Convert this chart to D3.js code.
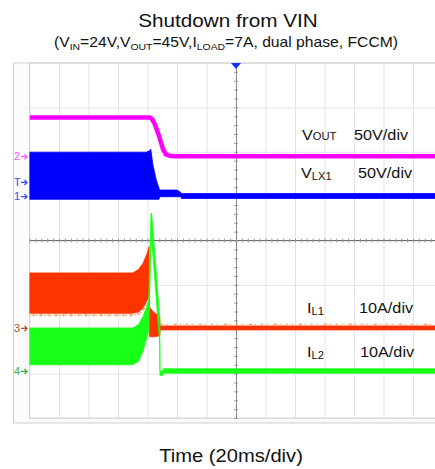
<!DOCTYPE html>
<html><head><meta charset="utf-8">
<script src="https://cdn.jsdelivr.net/npm/d3@7"></script>
<style>
html,body{margin:0;padding:0;background:#fff;}
svg{display:block;font-family:"Liberation Sans",Arial,sans-serif;}
</style></head><body>
<svg id="chart" width="435" height="469"></svg>
<script>
// Scope capture: 20 ms/div across, 8 divisions down
const timeDivs = 14;
const msPerDiv = 20;
const vertDivs = [-4, -3, -2, -1, 0, 1, 2, 3, 4];

// Channel setup: ground level (div), units per div, trace colour
const channelIds = ["1", "2", "3", "4"];
const channelOffsets = [1.0, 1.9, -1.97, -2.94];
const channelPerDiv = [50, 50, 10, 10];
const channelColors = ["#0000ff", "#ff00ff", "#ff3300", "#18ff18"];
const markerColors = ["#3a4cf0", "#ff55ff", "#b5502e", "#3fae3f"];
const triggerLevel = 16;   // V on channel 1
const triggerTime = 140;   // ms from left edge

// VOUT (ch2), volts
const voutT = [0, 81.5, 83, 85, 88, 90.5, 92.5, 95, 98, 280];
const voutV = [43.5, 43.5, 42, 36, 22, 8, 2, 0.5, 0, 0];

// VLX1 (ch1) switching envelope, volts
const lxT  = [0, 79, 81.5, 82.2, 83.7, 86, 87.8, 88.3, 100, 102.7, 103, 280];
const lxHi = [49.5, 49.5, 51, 53, 35, 18, 9, 6.9, 6.9, 4, 2.9, 2.9];
const lxLo = [-3.6, -3.6, -3.6, -3.6, -3.6, -3.6, -3.6, -0.7, -0.7, -0.7, -2.7, -2.7];

// IL1 (ch3) ripple envelope, amps
const il1T  = [0, 70, 74, 77, 79.5, 81.1, 81.3, 84, 88.3, 88.6, 280];
const il1Hi = [12.4, 12.4, 13.2, 14.6, 16.6, 18.3, 4.7, 3.6, 2.5, 0.45, 0.45];
const il1Lo = [3.3, 3.3, 3.6, 4.5, 6.0, 7.5, -2.0, -2.0, -1.8, -0.45, -0.45];

// IL2 (ch4) ripple envelope, amps
const il2T  = [0, 70, 74, 77, 79.5, 80.8, 82.4, 82.9, 88.3, 88.45, 90.4, 90.6, 280];
const il2Hi = [9.7, 9.7, 10.5, 12.3, 14.5, 16, 35.6, 35.3, 12, 0.0, 0.0, 0.5, 0.5];
const il2Lo = [1.4, 1.4, 2.2, 4.5, 7.5, 9, 28, 29.5, 6.2, -1.0, -1.0, -0.5, -0.5];

const svg = d3.select("#chart");
const plotLeft = 29.5, plotTop = 63, plotBottom = 418;
const divW = 29.5;
const x = d3.scaleLinear().domain([0, timeDivs * msPerDiv]).range([plotLeft, plotLeft + timeDivs * divW]);
const y = d3.scaleLinear().domain([-4, 4]).range([plotBottom, plotTop]);
const plotRight = x.range()[1];

// channel value -> screen division
const toDiv = (ch, v) => channelOffsets[ch] + v / channelPerDiv[ch];

// text stretched slightly wider than the stock face
function label(g, tx, ty, anchor, size, parts) {
  const t = g.append("g").attr("transform", `translate(${tx},${ty}) scale(1.12,1)`)
    .append("text").attr("text-anchor", anchor).attr("font-size", size).attr("fill", "#111");
  parts.forEach(p => {
    const s = t.append("tspan").text(p.t);
    if (p.sub) s.attr("font-size", p.sub).attr("dy", p.dy);
    else if (p.dy) s.attr("dy", p.dy);
  });
}

// screen frame
svg.append("rect").attr("x", 13.5).attr("y", plotTop).attr("width", 440).attr("height", 423 - plotTop)
  .attr("fill", "#fbfbfb").attr("stroke", "#cfcfcf");
svg.append("rect").attr("x", plotLeft).attr("y", plotTop).attr("width", plotRight - plotLeft).attr("height", plotBottom - plotTop)
  .attr("fill", "#fff");

// grid
const grid = svg.append("g").attr("class", "grid");
grid.append("g").attr("transform", `translate(0,${plotBottom})`)
  .call(d3.axisBottom(x).tickValues(d3.range(0, timeDivs + 1).map(i => i * msPerDiv))
    .tickSize(-(plotBottom - plotTop)).tickFormat(""))
  .call(g => g.select(".domain").remove())
  .call(g => g.selectAll("line").attr("stroke", "#e3e3e3"));
grid.append("g").attr("transform", `translate(${plotLeft},0)`)
  .call(d3.axisLeft(y).tickValues(vertDivs).tickSize(-(plotRight - plotLeft)).tickFormat(""))
  .call(g => g.select(".domain").remove())
  .call(g => g.selectAll("line").attr("stroke", "#e3e3e3"));
svg.append("rect").attr("x", plotLeft).attr("y", plotTop).attr("width", plotRight - plotLeft).attr("height", plotBottom - plotTop)
  .attr("fill", "none").attr("stroke", "#d6d6d6");

// centre graticule with fifth-division ticks
const cx = x(triggerTime), cy = y(0);
svg.append("g").attr("transform", `translate(0,${cy})`)
  .call(d3.axisBottom(x).tickValues(d3.range(0, 281, msPerDiv / 5)).tickSize(4).tickSizeOuter(0).tickFormat(""))
  .call(g => g.selectAll("line").attr("transform", "translate(0,-2)").attr("stroke", "#9a9a9a"))
  .call(g => g.select(".domain").attr("stroke", "#6a6a6a").attr("d", `M${plotLeft},0H${plotRight}`));
svg.append("g").attr("transform", `translate(${cx},0)`)
  .call(d3.axisLeft(y).tickValues(d3.range(-20, 21).map(i => i / 5)).tickSize(4).tickSizeOuter(0).tickFormat(""))
  .call(g => g.selectAll("line").attr("transform", "translate(2,0)").attr("stroke", "#9a9a9a"))
  .call(g => g.select(".domain").attr("stroke", "#8a8a8a"));

// traces
svg.append("clipPath").attr("id", "clip").append("rect")
  .attr("x", plotLeft).attr("y", plotTop).attr("width", plotRight - plotLeft).attr("height", plotBottom - plotTop);
const plot = svg.append("g").attr("clip-path", "url(#clip)");

function band(ch, T, hi, lo) {
  const pts = T.map((t, i) => ({t, hi: hi[i], lo: lo[i]}));
  plot.append("path").datum(pts)
    .attr("fill", channelColors[ch]).attr("stroke", channelColors[ch]).attr("stroke-width", 0.8)
    .attr("d", d3.area().x(d => x(d.t)).y0(d => y(toDiv(ch, d.lo))).y1(d => y(toDiv(ch, d.hi))));
}
band(0, lxT, lxHi, lxLo);
plot.append("path").datum(voutT.map((t, i) => ({t, v: voutV[i]})))
  .attr("fill", "none").attr("stroke", channelColors[1]).attr("stroke-width", 4.5)
  .attr("d", d3.line().x(d => x(d.t)).y(d => y(toDiv(1, d.v))));
band(2, il1T, il1Hi, il1Lo);
// switching spikes fringing the IL1 trace
plot.append("path").datum(il1T.slice(0, 5).map((t, i) => ({t, v: il1Lo[i] - 0.45})))
  .attr("fill", "none").attr("stroke", "#ff9a55").attr("stroke-width", 2)
  .attr("stroke-dasharray", "1 2 2 1 1 3 3 2")
  .attr("d", d3.line().x(d => x(d.t)).y(d => y(toDiv(2, d.v))));
plot.append("path").datum([{t: 89, v: 0.75}, {t: 280, v: 0.75}])
  .attr("fill", "none").attr("stroke", "#ff9a55").attr("stroke-width", 1.5)
  .attr("stroke-dasharray", "2 4 1 6 3 3 1 5")
  .attr("d", d3.line().x(d => x(d.t)).y(d => y(toDiv(2, d.v))));
band(3, il2T, il2Hi, il2Lo);

// trigger position marker
svg.append("path").attr("fill", "#1530ff")
  .attr("d", `M${cx - 5},${plotTop}L${cx + 5},${plotTop}L${cx},${plotTop + 6}Z`);

// ground / trigger markers at the left edge
function marker(txt, yPos, color) {
  const g = svg.append("g").attr("transform", `translate(14,${yPos})`);
  g.append("text").attr("x", 0).attr("y", 4).attr("font-size", 11).attr("fill", color).text(txt);
  g.append("path").attr("stroke", color).attr("stroke-width", 1.3).attr("fill", "none")
    .attr("d", "M7,0.5H13M10.5,-2L13,0.5L10.5,3");
}
channelIds.forEach((id, i) => marker(id, y(channelOffsets[i]), markerColors[i]));
marker("T", y(toDiv(0, triggerLevel)), markerColors[0]);

// titles
label(svg, 228, 27, "middle", 18.5, [{t: "Shutdown from VIN"}]);
label(svg, 226, 47, "middle", 14, [
  {t: "(V"}, {t: "IN", sub: 9.3, dy: 2.5}, {t: "=24V,V", dy: -2.5}, {t: "OUT", sub: 9.3, dy: 2.5},
  {t: "=45V,I", dy: -2.5}, {t: "LOAD", sub: 9.3, dy: 2.5}, {t: "=7A, dual phase, FCCM)", dy: -2.5}]);
label(svg, 231, 462, "middle", 18, [{t: "Time (20ms/div)"}]);

// channel labels
label(svg, 302, 140, "start", 14.5, [{t: "V"}, {t: "OUT", sub: 10, dy: 0}]);
label(svg, 354, 140, "start", 14.5, [{t: "50V/div"}]);
label(svg, 301, 178, "start", 14.5, [{t: "V"}, {t: "LX1", sub: 10, dy: 2}]);
label(svg, 358, 178, "start", 14.5, [{t: "50V/div"}]);
label(svg, 307, 313, "start", 14.5, [{t: "I"}, {t: "L1", sub: 10, dy: 1.5}]);
label(svg, 359, 313, "start", 14.5, [{t: "10A/div"}]);
label(svg, 307, 357, "start", 14.5, [{t: "I"}, {t: "L2", sub: 10, dy: 1.5}]);
label(svg, 360, 357, "start", 14.5, [{t: "10A/div"}]);
</script>
</body></html>
